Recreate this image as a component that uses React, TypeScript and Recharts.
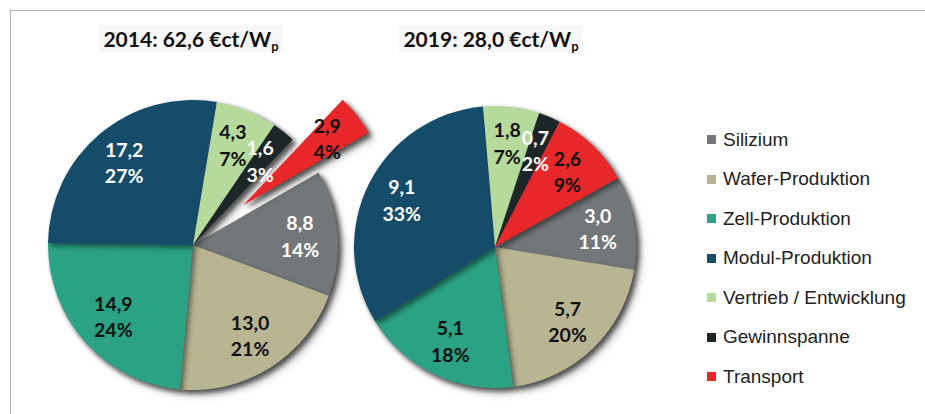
import React from 'react';
import { PieChart, Pie, Cell } from 'recharts';

const categories = ['Silizium', 'Wafer-Produktion', 'Zell-Produktion', 'Modul-Produktion', 'Vertrieb / Entwicklung', 'Gewinnspanne', 'Transport'];
const colors = ['#737779', '#b9b593', '#2aa283', '#154c69', '#b6d99c', '#1c2528', '#e8272b'];
const labelColors = ['#ffffff', '#111111', '#111111', '#ffffff', '#111111', '#ffffff', '#111111'];

const values2014 = [8.8, 13.0, 14.9, 17.2, 4.3, 1.6, 2.9];
const percent2014 = ['14%', '21%', '24%', '27%', '7%', '3%', '4%'];
const values2019 = [3.0, 5.7, 5.1, 9.1, 1.8, 0.7, 2.6];
const percent2019 = ['11%', '20%', '18%', '33%', '7%', '2%', '9%'];

const title2014 = '2014: 62,6 €ct/W';
const title2019 = '2019: 28,0 €ct/W';
const explodedIndex = 6;

const build = (vals: number[], pcts: string[]) =>
  vals.map((v, i) => ({ name: categories[i], value: v, pct: pcts[i], idx: i }));

const data2014 = build(values2014, percent2014);
const data2019 = build(values2019, percent2019);

const W = 925;
const H = 414;
const RAD = Math.PI / 180;

const L = { cx: 193, cy: 245, r: 145, start: 30 };
const R = { cx: 495, cy: 247, r: 141, start: 29.3 };
const explodeDist = 64;
const explodeAngle = 38.5;
const LX = { cx: L.cx + explodeDist * Math.cos(explodeAngle * RAD), cy: L.cy - explodeDist * Math.sin(explodeAngle * RAD) };

const fmt = (v: number) => v.toFixed(1).replace('.', ',');

const makeLabel = (only: (i: number) => boolean) => (props: any) => {
  const { cx, cy, midAngle, outerRadius, index, payload } = props;
  if (!only(index)) return null;
  const rr = outerRadius * 0.74;
  const x = cx + rr * Math.cos(-midAngle * RAD);
  const y = cy + rr * Math.sin(-midAngle * RAD);
  const row = payload && payload.payload ? payload.payload : payload;
  const val = row && row.value !== undefined ? row.value : props.value;
  const pct = row && row.pct !== undefined ? row.pct : '';
  return (
    <text
      x={x}
      y={y}
      textAnchor="middle"
      fill={labelColors[index]}
      style={{ fontFamily: 'Lato, "Open Sans", sans-serif', fontWeight: 700, fontSize: 19.5 }}
    >
      <tspan x={x} y={y - 6}>{fmt(val)}</tspan>
      <tspan x={x} y={y + 20.5}>{pct}</tspan>
    </text>
  );
};

const shadow = 'drop-shadow(3px 3px 2.5px rgba(0,0,0,0.45))';

export default function App() {
  return (
    <div style={{ position: 'absolute', left: 0, top: 0, width: W, height: H, background: '#ffffff', overflow: 'hidden' }}>
      <div style={{ position: 'absolute', left: 10, top: 10, width: W, height: H, borderTop: '1.5px solid #b3b3b3', borderLeft: '1.5px solid #b3b3b3' }} />
      <style>{`.shadowPie { filter: ${shadow}; }`}</style>
      <div style={{ position: 'absolute', left: 0, top: 0 }}>
        <PieChart width={W} height={H} margin={{ top: 0, right: 0, bottom: 0, left: 0 }}>
          <Pie
            data={data2014}
            dataKey="value"
            nameKey="name"
            cx={L.cx}
            cy={L.cy}
            outerRadius={L.r}
            startAngle={L.start}
            endAngle={L.start - 360}
            stroke="none"
            className="shadowPie"
            isAnimationActive={false}
          >
            {data2014.map((d, i) => (
              <Cell key={i} fill={i === explodedIndex ? 'none' : colors[i]} stroke="none" />
            ))}
          </Pie>
          <Pie
            data={data2014}
            dataKey="value"
            nameKey="name"
            cx={LX.cx}
            cy={LX.cy}
            outerRadius={L.r}
            startAngle={L.start}
            endAngle={L.start - 360}
            stroke="none"
            className="shadowPie"
            isAnimationActive={false}
          >
            {data2014.map((d, i) => (
              <Cell key={i} fill={i === explodedIndex ? colors[i] : 'none'} stroke="none" />
            ))}
          </Pie>
          <Pie
            data={data2019}
            dataKey="value"
            nameKey="name"
            cx={R.cx}
            cy={R.cy}
            outerRadius={R.r}
            startAngle={R.start}
            endAngle={R.start - 360}
            stroke="none"
            className="shadowPie"
            isAnimationActive={false}
          >
            {data2019.map((d, i) => (
              <Cell key={i} fill={colors[i]} stroke="none" />
            ))}
          </Pie>
          <Pie
            data={data2014}
            dataKey="value"
            nameKey="name"
            cx={L.cx}
            cy={L.cy}
            outerRadius={L.r}
            startAngle={L.start}
            endAngle={L.start - 360}
            fill="none"
            stroke="none"
            labelLine={false}
            label={makeLabel((i) => i !== explodedIndex)}
            isAnimationActive={false}
          >
            {data2014.map((d, i) => (
              <Cell key={i} fill="none" stroke="none" />
            ))}
          </Pie>
          <Pie
            data={data2014}
            dataKey="value"
            nameKey="name"
            cx={LX.cx}
            cy={LX.cy}
            outerRadius={L.r}
            startAngle={L.start}
            endAngle={L.start - 360}
            fill="none"
            stroke="none"
            labelLine={false}
            label={makeLabel((i) => i === explodedIndex)}
            isAnimationActive={false}
          >
            {data2014.map((d, i) => (
              <Cell key={i} fill="none" stroke="none" />
            ))}
          </Pie>
          <Pie
            data={data2019}
            dataKey="value"
            nameKey="name"
            cx={R.cx}
            cy={R.cy}
            outerRadius={R.r}
            startAngle={R.start}
            endAngle={R.start - 360}
            fill="none"
            stroke="none"
            labelLine={false}
            label={makeLabel(() => true)}
            isAnimationActive={false}
          >
            {data2019.map((d, i) => (
              <Cell key={i} fill="none" stroke="none" />
            ))}
          </Pie>
        </PieChart>
      </div>
      {[{ t: title2014, c: 191 }, { t: title2019, c: 491 }].map((o, i) => (
        <div
          key={i}
          style={{
            position: 'absolute',
            left: o.c - 150,
            width: 300,
            top: 26,
            textAlign: 'center',
            fontFamily: 'Lato, "Open Sans", sans-serif',
            fontWeight: 700,
            fontSize: 21,
            lineHeight: '26px',
            color: '#111',
          }}
        >
          <span style={{ background: '#f7f7f7', padding: '1px 4px' }}>
            {o.t}
            <sub style={{ fontSize: 13, verticalAlign: '-4px' }}>p</sub>
          </span>
        </div>
      ))}
      <div style={{ position: 'absolute', left: 707, top: 120 }}>
        {categories.map((c, i) => (
          <div key={i} style={{ display: 'flex', alignItems: 'center', height: 39.5, fontFamily: '"Liberation Sans", Arial, sans-serif', fontSize: 19, color: '#222' }}>
            <span style={{ display: 'inline-block', width: 9, height: 9, background: colors[i], marginRight: 7 }} />
            <span>{c}</span>
          </div>
        ))}
      </div>
    </div>
  );
}
